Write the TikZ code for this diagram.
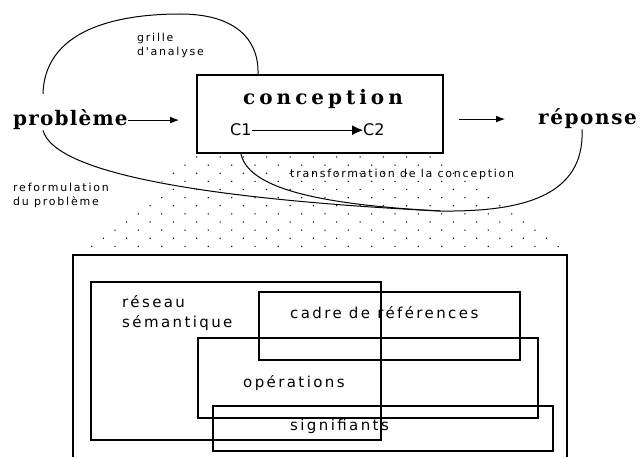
\documentclass[tikz,border=0pt]{standalone}
\usepackage{fontspec}
\usetikzlibrary{arrows.meta}
\newfontfamily\wordfont[LetterSpace=6]{DejaVu Serif}
\newfontfamily\labelfont[LetterSpace=16]{DejaVu Sans}
\newfontfamily\plainfont{DejaVu Sans}

\begin{document}
\begin{tikzpicture}[x=1pt, y=-1pt,
  rect/.style={draw, line width=2pt, inner sep=0pt},
  word/.style={font={\wordfont\bfseries\fontsize{20}{24}\selectfont}, inner sep=0pt, anchor=base west},
  tag/.style={font={\labelfont\fontsize{15}{20}\selectfont}, inner sep=0pt, anchor=base west, align=left},
  note/.style={font={\labelfont\fontsize{11}{14.5}\selectfont}, inner sep=0pt, anchor=base west, align=left},
  link/.style={line width=1pt},
  arr/.style={line width=1pt, -{Latex[length=9pt, width=7pt]}}]
  \useasboundingbox (0,0) rectangle (641,457);
  \clip (0,0) rectangle (641,457);

  % conception box
  \node[rect, minimum width=246pt, minimum height=78pt] (K) at (320,114) {};
  \node[word] (CT) at (243,105) {\addfontfeature{LetterSpace=20}conception};
  \node[font={\plainfont\fontsize{16}{19}\selectfont}, inner sep=0pt, anchor=base west] (C1) at (230,136) {C1};
  \node[font={\plainfont\fontsize{16}{19}\selectfont}, inner sep=0pt, anchor=base west] (C2) at (363,136) {C2};
  \draw[line width=1pt, -{Latex[length=11pt, width=10pt]}] (C1) -- (C2);

  \node[word] (P) at (13,126) {problème};
  \node[word] (R) at (538,125) {\addfontfeature{LetterSpace=8}réponse};
  \draw[arr, shorten >=17pt] (P.east) -- (P.east -| K.west);
  \draw[arr, shorten <=15pt, shorten >=33pt] (K.east |- R.west) -- (R.west);

  % big box and the boxes inside it
  \node[rect, line width=2.6pt, minimum width=494pt, minimum height=215pt] (B) at (320,362.5) {};
  \node[rect, minimum width=290pt, minimum height=158pt] (S) at (236,361) {};
  \node[rect, minimum width=261pt, minimum height=68pt] (F) at (389.5,326) {};
  \node[rect, minimum width=340pt, minimum height=80pt] (O) at (368,378) {};
  \node[rect, minimum width=340pt, minimum height=45pt] (G) at (383,428.5) {};

  \node[tag] (ST) at (122,328) {réseau\\sémantique};
  \node[tag] (FT) at (290,319) {cadre de références};
  \node[tag] (OT) at (243,388) {opérations};
  \node[tag] (GT) at (290,431) {signifiants};

  % dotted zoom
  \begin{scope}
    \clip (K.south west) -- (K.south east) -- (B.north east) -- (B.north west) -- cycle;
    \foreach \i in {0,...,12}
      \foreach \j in {-6,...,16}
        \fill ({196.7+23.33*\j-11.67*mod(\i,2)}, {157+8.125*\i}) circle (0.75pt);
  \end{scope}

  % loops
  \coordinate (T) at (180,14);
  \coordinate (M) at (440,211);
  \draw[link] ([shift={(30,-16)}]P.north west) .. controls +(2,-70) and +(-50,0) .. (T)
    .. controls +(55,0) and +(1,-35) .. ([xshift=62pt]K.north west);
  \draw[link] ([xshift=44pt]R.south west) .. controls +(3,68) and +(80,1) .. (M);
  \draw[link] (M) .. controls +(-220,-11) and +(12,45) .. ([xshift=30pt]P.south west);
  \draw[link] (M) .. controls +(-110,-6) and +(8,37) .. ([xshift=45pt]K.south west);

  \node[note] (GA) at (137,56) {grille\\d'analyse};
  \node[note] (TC) at (290,178) {transformation de la conception};
  \node[note] (RP) at (13,206) {reformulation\\du problème};
\end{tikzpicture}
\end{document}
